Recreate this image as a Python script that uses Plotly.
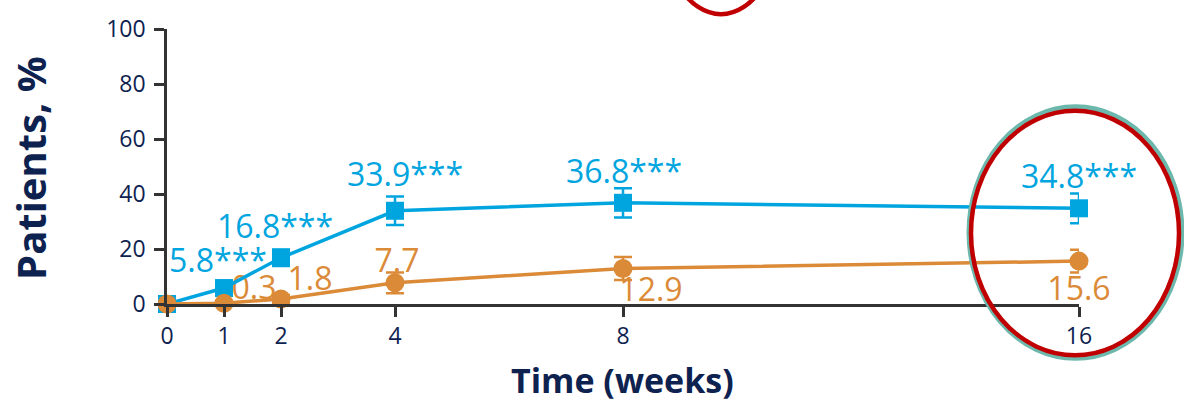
import plotly.graph_objects as go

# Weeks on treatment and share of patients (%) per arm
weeks = [0, 1, 2, 4, 8, 16]
active = [0, 5.8, 16.8, 33.9, 36.8, 34.8]
active_err = [0, 2.5, 3.0, 5.2, 5.3, 5.4]
placebo = [0, 0.3, 1.8, 7.7, 12.9, 15.6]
placebo_err = [0, 0.8, 1.5, 3.8, 4.2, 4.1]
y_ticks = [0, 20, 40, 60, 80, 100]
x_ticks = [0, 1, 2, 4, 8, 16]

W, H = 1184, 404
ML, MR, MT, MB = 167, 105, 25, 100
PW, PH = W - ML - MR, H - MT - MB
XR, YR = (0, 16), (0, 100)

BLUE = "#00A5E0"
ORANGE = "#DB8A37"
NAVY = "#0E2250"
AXIS = "#333333"
FONT = "Open Sans"

# pixel offsets of the value labels from their points (right / up)
active_off = [None, (-6, 24), (-6, 28), (10, 33), (1, 28), (0, 29)]
placebo_off = [None, (30, 12), (29, 17), (2, 19), (28, -25), (0, -31)]

px_x = PW / (XR[1] - XR[0])
px_y = PH / (YR[1] - YR[0])


def label_points(xs, ys, offs):
    lx, ly = [], []
    for x, y, o in zip(xs, ys, offs):
        if o is None:
            continue
        lx.append(x + o[0] / px_x)
        ly.append(y + o[1] / px_y)
    return lx, ly


fig = go.Figure()

# value labels sit beneath the markers
ax, ay = label_points(weeks, active, active_off)
fig.add_trace(go.Scatter(
    x=ax, y=ay, mode="text",
    text=[f"{v}***" for v in active[1:]],
    textfont=dict(family=FONT, size=32, color=BLUE),
    textposition="middle center", cliponaxis=False, hoverinfo="skip"))
px_, py_ = label_points(weeks, placebo, placebo_off)
fig.add_trace(go.Scatter(
    x=px_, y=py_, mode="text",
    text=[f"{v}" for v in placebo[1:]],
    textfont=dict(family=FONT, size=32, color=ORANGE),
    textposition="middle center", cliponaxis=False, hoverinfo="skip"))

fig.add_trace(go.Scatter(
    x=weeks, y=active, mode="lines+markers",
    line=dict(color=BLUE, width=3.5),
    marker=dict(symbol="square", size=18, color=BLUE),
    error_y=dict(type="data", array=active_err, color=BLUE, thickness=2.5, width=9),
    cliponaxis=False))
fig.add_trace(go.Scatter(
    x=weeks, y=placebo, mode="lines+markers",
    line=dict(color=ORANGE, width=3.5),
    marker=dict(symbol="circle", size=19, color=ORANGE),
    error_y=dict(type="data", array=placebo_err, color=ORANGE, thickness=2.5, width=9),
    cliponaxis=False))


def paper_x(p):
    return (p - ML) / PW


def paper_y(p):
    return (H - MB - p) / PH


# highlight ellipses (pixel boxes converted to paper space)
fig.add_shape(type="circle", xref="paper", yref="paper",
              x0=paper_x(969), x1=paper_x(1182), y0=paper_y(359), y1=paper_y(104),
              line=dict(color="#6DB8AC", width=5))
fig.add_shape(type="circle", xref="paper", yref="paper",
              x0=paper_x(971), x1=paper_x(1179), y0=paper_y(356), y1=paper_y(108),
              line=dict(color="#C00000", width=4.5))
fig.add_shape(type="circle", xref="paper", yref="paper",
              x0=paper_x(659), x1=paper_x(783), y0=paper_y(10), y1=paper_y(-200),
              line=dict(color="#C00000", width=4.5))

fig.add_annotation(text="<b>Patients, %</b>", xref="paper", yref="paper",
                   x=paper_x(31), y=paper_y(166), textangle=-90, showarrow=False,
                   font=dict(family=FONT, size=40, color=NAVY),
                   xanchor="center", yanchor="middle")
fig.add_annotation(text="<b>Time (weeks)</b>", xref="paper", yref="paper",
                   x=paper_x(622), y=paper_y(381), showarrow=False,
                   font=dict(family=FONT, size=34, color=NAVY),
                   xanchor="center", yanchor="middle")

fig.update_layout(
    width=W, height=H,
    margin=dict(l=ML, r=MR, t=MT, b=MB, pad=0),
    paper_bgcolor="white", plot_bgcolor="white",
    showlegend=False,
    xaxis=dict(range=list(XR), tickvals=x_ticks, showgrid=False, zeroline=False,
               showline=True, linecolor=AXIS, linewidth=2.5,
               ticks="outside", ticklen=10, tickwidth=2.5, tickcolor=AXIS,
               tickfont=dict(family=FONT, size=23, color=NAVY)),
    yaxis=dict(range=list(YR), tickvals=y_ticks, showgrid=False, zeroline=False,
               showline=True, linecolor=AXIS, linewidth=2.5,
               ticks="outside", ticklen=10, tickwidth=2.5, tickcolor=AXIS,
               ticklabelstandoff=4,
               tickfont=dict(family=FONT, size=23, color=NAVY)),
)

fig.write_html("out.html")
